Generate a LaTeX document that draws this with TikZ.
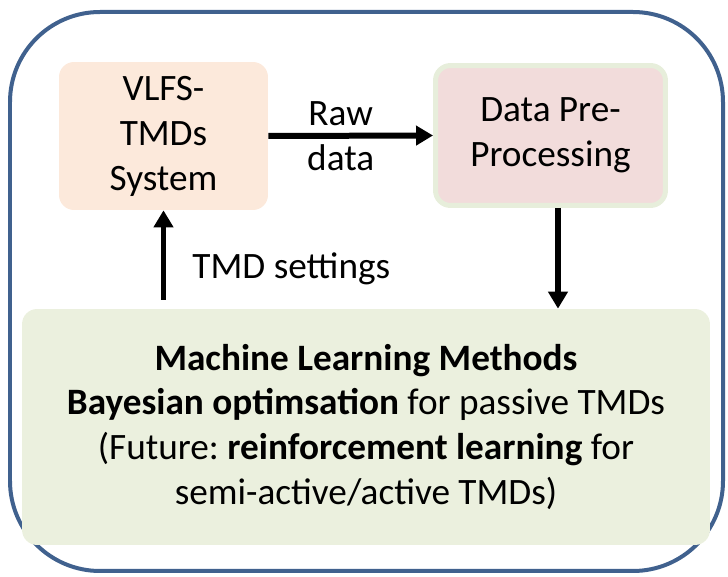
\documentclass[tikz,border=0pt]{standalone}
\usepackage{fontspec}
\setmainfont{Carlito}
\usetikzlibrary{arrows.meta}
\frenchspacing
\definecolor{frameblue}{RGB}{64,97,142}
\definecolor{peachfill}{RGB}{252,233,219}
\definecolor{rosefill}{RGB}{242,220,219}
\definecolor{olivefill}{RGB}{235,240,222}
\definecolor{oliveline}{RGB}{231,238,219}

\begin{document}
\begin{tikzpicture}[x=0.02cm,y=-0.02cm,
  every node/.style={font=\fontsize{21.2}{25.6}\selectfont, align=center},
  box/.style={rounded corners=0.3cm, inner sep=0pt},
  flow/.style={line width=0.12cm, -{Triangle[length=0.34cm,width=0.38cm]}}]
  \useasboundingbox (0,0) rectangle (728,577);
  \draw[frameblue, line width=0.08cm, rounded corners=1.8cm] (10,12) rectangle (723,571);
  \node[box, fill=peachfill, minimum width=4.18cm, minimum height=2.96cm] (vlfs) at (163.5,136) {VLFS-\\TMDs\\System};
  \node[box, fill=rosefill, draw=oliveline, line width=0.1cm, minimum width=4.6cm, minimum height=2.8cm] (prep) at (550.5,135.5) {Data Pre-\\Processing};
  \node[box, fill=olivefill, minimum width=13.76cm, minimum height=4.72cm] (ml) at (366,427) {\textbf{Machine Learning Methods}\\\textbf{Bayesian optimsation} for passive TMDs\\(Future: \textbf{reinforcement learning} for\\semi-active/active TMDs)};
  \draw[flow] (vlfs.east) -- node[xshift=-0.2cm] (raw) {Raw\\data} (prep.west);
  \draw[flow] ([xshift=0.15cm]prep.south) -- ([xshift=0.15cm]prep.south |- ml.north);
  \draw[flow] ([yshift=0.18cm]vlfs.south |- ml.north) -- node[pos=0.35, anchor=west, inner sep=0pt, xshift=0.52cm] (tmd) {TMD settings} (vlfs.south);
\end{tikzpicture}
\end{document}
